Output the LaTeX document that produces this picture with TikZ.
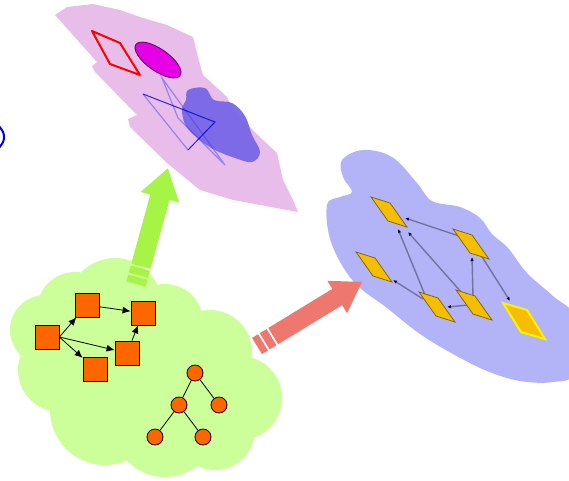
\documentclass[tikz,border=0pt]{standalone}
\usetikzlibrary{arrows.meta,calc}
\definecolor{cloudgreen}{HTML}{CCFF99}
\definecolor{arrgreen}{HTML}{A6F546}
\definecolor{arrred}{HTML}{EE786E}
\definecolor{lav}{HTML}{B3B3F8}
\definecolor{pinkp}{HTML}{E9BDE9}
\definecolor{orng}{HTML}{FF6600}
\definecolor{gold}{HTML}{F5BE00}
\definecolor{blobc}{HTML}{7766E6}
\definecolor{mag}{HTML}{E600E6}
\begin{document}
\begin{tikzpicture}[x=1pt,y=-1pt,
  sq/.style={draw=black,line width=0.8pt,fill=orng,minimum size=24pt,inner sep=0pt},
  tn/.style={circle,draw=black,line width=0.8pt,fill=orng,minimum size=16pt,inner sep=0pt},
  garr/.style={line width=0.8pt,-{Latex[length=8pt,width=7pt]}},
  tedge/.style={line width=0.8pt},
  conn/.style={line width=1.4pt,draw=black!40!lav,opacity=0.9,-{Latex[length=4pt,width=3.5pt,color=black!80!blue]}},
  ydia/.pic={\fill[gold,draw=black!50!gold,line width=0.7pt] (-18,-15) -- (1,-9) -- (18,15) -- (-1,9) -- cycle;},
  ydiahl/.pic={\fill[gold,draw=yellow,line width=2pt] (-21,-18) -- (3,-11) -- (21,18) -- (-3,11) -- cycle;}
]
\useasboundingbox (0,0) rectangle (569,480);

% blue circle at left edge
\draw[blue!85!black,line width=2pt] (-10,137) circle (14);

% pink plane
\fill[pinkp] (55,15) -- (67,7) -- (93,4) -- (120,10) -- (140,17) -- (167,25) -- (193,37) -- (198,57) -- (203,75) -- (227,97) -- (233,110) -- (263,140) -- (277,153) -- (283,180) -- (293,200) -- (298,212) -- (233,200) -- (200,190) -- (167,163) -- (130,127) -- (128,119) -- (137,115) -- (95,72) -- (92,66) -- (97,62) -- cycle;
\draw[red,line width=2pt,line join=round] (92,31) -- (120,43) -- (140,75) -- (110,64) -- cycle;
\fill[mag,draw=black!60!mag,line width=0.8pt] (158,60) ellipse[x radius=27,y radius=11,rotate=-35];
\fill[blobc,opacity=0.95] plot[smooth cycle,tension=0.6] coordinates {(188,90) (205,88) (214,100) (232,103) (245,116) (252,135) (260,152) (252,162) (235,158) (215,150) (200,140) (186,126) (182,110) (186,100)};
\draw[blue!70!lav,opacity=0.45,line width=1.2pt] (162,78) -- (225,165) -- (178,118) -- cycle;
\draw[blue!70!lav,opacity=0.45,line width=1.2pt] (143,94) -- (188,150);
\draw[blue!80!black,opacity=0.8,line width=1pt] (143,94) -- (215,122) -- (188,150);

% lavender cloud
\fill[lav] plot[smooth cycle,tension=0.6] coordinates {(342,160) (363,150) (392,157) (417,183) (432,201) (460,207) (480,218) (492,234) (508,248) (527,273) (553,296) (575,318) (575,372) (553,382) (520,381) (487,371) (453,354) (420,334) (387,308) (353,281) (331,242) (327,205) (340,197) (352,192) (343,177)};

% yellow diamonds
\coordinate (d1) at (389,212);
\coordinate (d2) at (374,267);
\coordinate (d3) at (471,244);
\coordinate (d4) at (437,307);
\coordinate (d5) at (474,305);
\coordinate (d6) at (524,321);
\draw[conn] ($(d3)+(-12,-8)$) -- ($(d1)+(16,6)$);
\draw[conn] ($(d4)+(-12,-12)$) -- ($(d1)+(9,17)$);
\draw[conn] ($(d5)+(-12,-12)$) -- ($(d1)+(19,20)$);
\draw[conn] ($(d4)+(-14,-8)$) -- ($(d2)+(19,13)$);
\draw[conn] ($(d5)+(-5,0)$) -- ($(d4)+(10,0)$);
\draw[conn] ($(d5)+(-1,-8)$) -- ($(d3)+(1,13)$);
\draw[conn] ($(d3)+(8,8)$) -- ($(d6)+(-14,-20)$);
\foreach \d in {d1,d2,d3,d4,d5} \pic at (\d) {ydia};
\pic at (d6) {ydiahl};

% green cloud
\fill[cloudgreen]
  (45,330) circle (35)
  (75,310) circle (38)
  (115,305) circle (47)
  (165,322) circle (38)
  (210,352) circle (42)
  (240,398) circle (42)
  (215,430) circle (40)
  (165,425) circle (52)
  (105,410) circle (55)
  (60,370) circle (42)
  (140,365) circle (60);

% graph in green cloud
\node[sq] (s1) at (47,337) {};
\node[sq] (s2) at (87,305) {};
\node[sq] (s3) at (143,313) {};
\node[sq] (s4) at (127,353) {};
\node[sq] (s5) at (95,369) {};
\draw[garr] (s1.east) -- (s2);
\draw[garr] (s1.east) -- (s5);
\draw[garr] (s1.east) -- (s4);
\draw[garr] (s2) -- (s3);
\draw[garr] (s4) -- (s3);

\node[tn] (t1) at (195,373) {};
\node[tn] (t2) at (179,405) {};
\node[tn] (t3) at (219,405) {};
\node[tn] (t4) at (155,437) {};
\node[tn] (t5) at (203,437) {};
\draw[tedge] (t1) -- (t2);
\draw[tedge] (t1) -- (t3);
\draw[tedge] (t2) -- (t4);
\draw[tedge] (t2) -- (t5);

% green arrow
\begin{scope}[shift={(136,284)},rotate=74.6]
  \fill[arrgreen] (0,-10) rectangle (7,10);
  \fill[arrgreen] (9,-10) rectangle (16.5,10);
  \fill[arrgreen] (18.5,-10) -- (90,-10) -- (90,-20) -- (120,0) -- (90,20) -- (90,10) -- (18.5,10) -- cycle;
\end{scope}

% red arrow
\begin{scope}[shift={(257,346)},rotate=31.4]
  \fill[arrred] (0,-9.5) rectangle (7,9.5);
  \fill[arrred] (9,-9.5) rectangle (17,9.5);
  \fill[arrred] (19,-9.5) -- (94,-9.5) -- (94,-19) -- (123,0) -- (94,19) -- (94,9.5) -- (19,9.5) -- cycle;
\end{scope}
\end{tikzpicture}
\end{document}
